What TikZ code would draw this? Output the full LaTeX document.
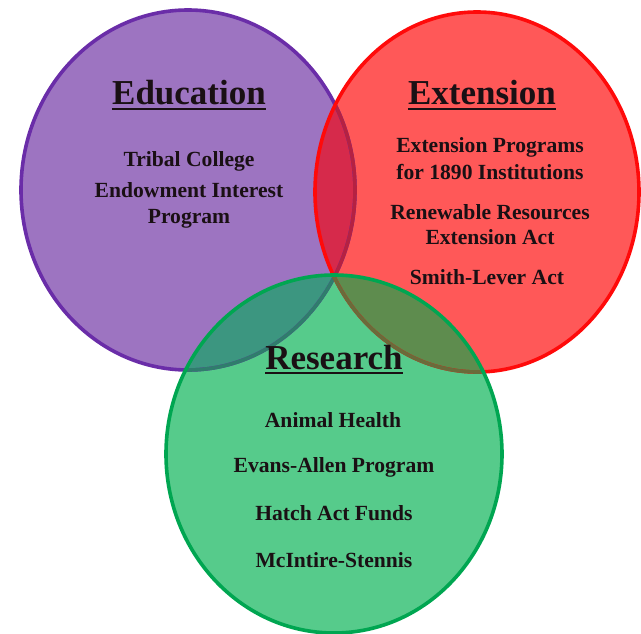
\documentclass[tikz,border=0pt]{standalone}
\usepackage{fontspec}
\setmainfont{Liberation Serif}
\definecolor{purpleF}{HTML}{9D74C1}
\definecolor{purpleB}{HTML}{6A2DA8}
\definecolor{redF}{HTML}{FF5858}
\definecolor{redB}{HTML}{FF0A0A}
\definecolor{greenF}{HTML}{56CB8B}
\definecolor{greenB}{HTML}{00A651}
\definecolor{lensPR}{HTML}{D62A4B}
\definecolor{lensPG}{HTML}{3C9680}
\definecolor{lensRG}{HTML}{5E8C4E}
\definecolor{pBunderR}{HTML}{B52142}
\definecolor{pBunderG}{HTML}{2F7D6C}
\definecolor{rBunderG}{HTML}{6A6B3A}
\definecolor{ink}{HTML}{1A1014}
\tikzset{
  pE/.style={insert path={(188,190) ellipse [x radius=167pt, y radius=180pt]}},
  pR/.style={insert path={(477,192) ellipse [x radius=162pt, y radius=180pt]}},
  pG/.style={insert path={(334,454) ellipse [x radius=168pt, y radius=179pt]}},
  border/.style={line width=3.6pt},
  heading/.style={inner sep=0pt, anchor=base, text=ink, font=\fontsize{35}{40}\selectfont\bfseries},
  item/.style={inner sep=0pt, text=ink, font=\fontsize{21.6}{24}\selectfont\bfseries},
  uline/.style={line width=2.4pt, draw=ink}
}
\begin{document}
\begin{tikzpicture}[x=1pt, y=-1pt]
\useasboundingbox (0,0) rectangle (641,634);
% fills
\fill[purpleF, pE];
\fill[redF, pR];
\fill[greenF, pG];
% lenses
\begin{scope}
  \path[clip, pE];
  \fill[lensPR, pR];
  \fill[lensPG, pG];
\end{scope}
\begin{scope}
  \path[clip, pR];
  \fill[lensRG, pG];
\end{scope}
% purple border
\draw[border, purpleB, pE];
\begin{scope}
  \path[clip, pR];
  \draw[border, pBunderR, pE];
\end{scope}
\begin{scope}
  \path[clip, pG];
  \draw[border, pBunderG, pE];
\end{scope}
% red border
\draw[border, redB, pR];
\begin{scope}
  \path[clip, pG];
  \draw[border, rBunderG, pR];
\end{scope}
% green border
\draw[border, greenB, pG];

% Education
\node[heading] (edu) at (189,105) {Education};
\draw[uline] ([yshift=-4pt]edu.base west) -- ([yshift=-4pt]edu.base east);
\node[item] (edu1) at (189,161) {Tribal College};
\node[item] (edu2) at (189,190) {Endowment Interest};
\node[item] (edu3) at (189,219) {Program};

% Extension
\node[heading] (ext) at (482,105) {Extension};
\draw[uline] ([yshift=-4pt]ext.base west) -- ([yshift=-4pt]ext.base east);
\node[item] (ext1) at (490,147) {Extension Programs};
\node[item] (ext2) at (490,172) {for 1890 Institutions};
\node[item] (ext3) at (490,212) {Renewable Resources};
\node[item] (ext4) at (490,237) {Extension Act};
\node[item] (ext5) at (487,277) {Smith-Lever Act};

% Research
\node[heading] (res) at (334,369) {Research};
\draw[uline] ([yshift=-4pt]res.base west) -- ([yshift=-4pt]res.base east);
\node[item] (res1) at (333,420) {Animal Health};
\node[item] (res2) at (334,467) {Evans-Allen Program};
\node[item] (res3) at (334,513) {Hatch Act Funds};
\node[item] (res4) at (334,560) {McIntire-Stennis};
\end{tikzpicture}
\end{document}
